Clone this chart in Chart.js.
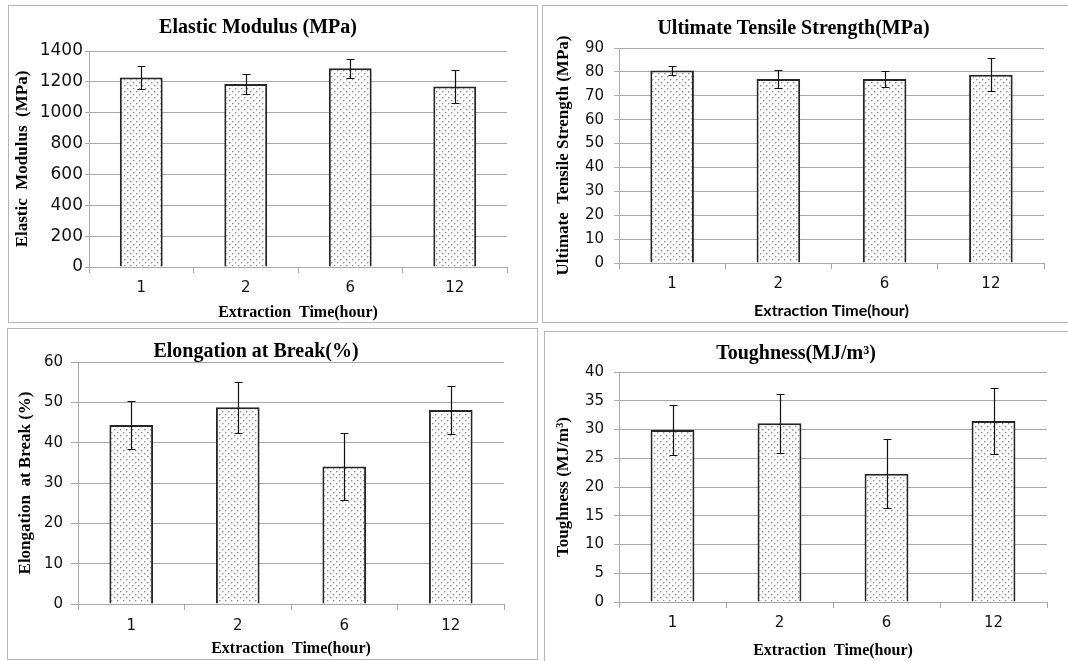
<!DOCTYPE html>
<html>
<head>
<meta charset="utf-8">
<script src="https://cdn.jsdelivr.net/npm/chart.js@4.4.1/dist/chart.umd.min.js"></script>
<style>
  body { margin: 0; background: #fff; width: 1068px; height: 661px; overflow: hidden; position: relative; }
  .panel { position: absolute; border: 1px solid #b4b4b4; box-sizing: border-box; overflow: hidden; }
  .panel canvas { position: absolute; left: 0; top: 0; }
</style>
</head>
<body>
<script>
// extraction time categories (hours)
const categories = ['1', '2', '6', '12'];

// values, with +/- error
const modulusValues = [1229, 1186, 1288, 1170];
const modulusErrors = [75, 65, 62, 110];

const strengthValues = [80.6, 77.0, 77.0, 78.8];
const strengthErrors = [2.0, 3.6, 3.2, 7.0];

const elongationValues = [44.4, 48.8, 34.1, 48.1];
const elongationErrors = [5.9, 6.3, 8.2, 6.0];

const toughnessValues = [29.9, 31.1, 22.3, 31.5];
const toughnessErrors = [4.4, 5.1, 6.0, 5.75];

const SERIF = '"Liberation Serif", "Times New Roman", serif';
const SANS = '"DejaVu Sans", sans-serif';
const GRID = '#a8a8a8';

// dotted fill like the original bars
function dotPattern() {
    const pc = document.createElement('canvas');
    pc.width = 6;
    pc.height = 6;
    const c = pc.getContext('2d');
    c.fillStyle = '#ffffff';
    c.fillRect(0, 0, 6, 6);
    c.fillStyle = '#8c8c8c';
    c.fillRect(1, 1, 1, 1);
    c.fillRect(4, 4, 1, 1);
    c.fillStyle = '#cfcfcf';
    c.fillRect(2, 1, 1, 1);
    c.fillRect(5, 4, 1, 1);
    c.fillRect(1, 2, 1, 1);
    c.fillRect(4, 5, 1, 1);
    return pc;
}

const errorBars = {
    id: 'errorBars',
    afterDatasetsDraw(chart) {
        const ctx = chart.ctx;
        const yScale = chart.scales.y;
        chart.data.datasets.forEach((ds, di) => {
            const meta = chart.getDatasetMeta(di);
            meta.data.forEach((bar, i) => {
                const v = ds.data[i];
                const e = ds.errors[i];
                const top = Math.round(yScale.getPixelForValue(v + e)) + 0.5;
                const bot = Math.round(yScale.getPixelForValue(v - e)) + 0.5;
                const x = Math.round(bar.x) + 0.5;
                ctx.save();
                ctx.strokeStyle = '#111';
                ctx.lineWidth = 1.2;
                ctx.beginPath();
                ctx.moveTo(x, top);
                ctx.lineTo(x, bot);
                ctx.moveTo(x - 4, top);
                ctx.lineTo(x + 4, top);
                ctx.moveTo(x - 4, bot);
                ctx.lineTo(x + 4, bot);
                ctx.stroke();
                ctx.restore();
            });
        });
    }
};

const panels = [
    {
        box: [8, 5, 530, 318], title: 'Elastic Modulus (MPa)', titlePad: [12, 13],
        yTitle: 'Elastic  Modulus  (MPa)', yTitlePad: 3, xTitle: 'Extraction  Time(hour)', xTitleFont: SERIF, xTitlePad: 0,
        values: modulusValues, errors: modulusErrors, max: 1400, step: 200,
        yWidth: 80, xHeight: 55, padRight: 30, padBottom: 0,
        yTickFont: 17, xTickFont: 15, yTickLen: 4, yTickPad: 2, xTickPad: 6
    },
    {
        box: [542, 5, 530, 318], title: 'Ultimate Tensile Strength(MPa)', titlePad: [13, 9],
        yTitle: 'Ultimate  Tensile Strength (MPa)', yTitlePad: 10, xTitle: 'Extraction Time(hour)', xTitleFont: '"Lato", "Liberation Sans", sans-serif', xTitlePad: 2,
        values: strengthValues, errors: strengthErrors, max: 90, step: 10,
        yWidth: 76, xHeight: 59, padRight: 27, padBottom: 0,
        yTickFont: 15, xTickFont: 15, yTickLen: 5, yTickPad: 10, xTickPad: 6
    },
    {
        box: [7, 328, 531, 332], title: 'Elongation at Break(%)', titlePad: [13, 0],
        yTitle: 'Elongation  at Break (%)', yTitlePad: 7, xTitle: 'Extraction  Time(hour)', xTitleFont: SERIF, xTitlePad: 1,
        values: elongationValues, errors: elongationErrors, max: 60, step: 10,
        yWidth: 70, xHeight: 55, padRight: 33, padBottom: 0,
        yTickFont: 15, xTickFont: 15, yTickLen: 7, yTickPad: 8, xTickPad: 7
    },
    {
        box: [544, 331, 530, 340], title: 'Toughness(MJ/m³)', titlePad: [12, 8],
        yTitle: 'Toughness (MJ/m³)', yTitlePad: 8, xTitle: 'Extraction  Time(hour)', xTitleFont: SERIF, xTitlePad: 2,
        values: toughnessValues, errors: toughnessErrors, max: 40, step: 5,
        yWidth: 74, xHeight: 60, padRight: 26, padBottom: 8,
        yTickFont: 15, xTickFont: 15, yTickLen: 5, yTickPad: 10, xTickPad: 6
    }
];

const pattern = dotPattern();

panels.forEach(p => {
    const div = document.createElement('div');
    div.className = 'panel';
    div.style.left = p.box[0] + 'px';
    div.style.top = p.box[1] + 'px';
    div.style.width = p.box[2] + 'px';
    div.style.height = p.box[3] + 'px';
    const canvas = document.createElement('canvas');
    const w = p.box[2] - 2;
    const h = p.box[3] - 2;
    canvas.width = w;
    canvas.height = h;
    canvas.style.width = w + 'px';
    canvas.style.height = h + 'px';
    div.appendChild(canvas);
    document.body.appendChild(div);

    const ctx = canvas.getContext('2d');
    const fill = ctx.createPattern(pattern, 'repeat');

    new Chart(canvas, {
        type: 'bar',
        data: {
            labels: categories,
            datasets: [{
                data: p.values,
                errors: p.errors,
                backgroundColor: fill,
                borderColor: '#262626',
                borderWidth: 2,
                categoryPercentage: 0.41,
                barPercentage: 1
            }]
        },
        options: {
            responsive: false,
            animation: false,
            devicePixelRatio: 1,
            layout: { padding: { left: 0, top: 0, right: p.padRight, bottom: p.padBottom } },
            plugins: {
                legend: { display: false },
                tooltip: { enabled: false },
                title: {
                    display: true,
                    text: p.title,
                    color: '#000',
                    font: { family: SERIF, size: 20, weight: 'bold', lineHeight: 1 },
                    padding: { top: p.titlePad[0], bottom: p.titlePad[1] }
                }
            },
            scales: {
                x: {
                    afterFit(scale) { scale.height = p.xHeight; },
                    grid: { drawOnChartArea: false, drawTicks: true, tickLength: 6, color: GRID },
                    border: { display: true, color: GRID, width: 1 },
                    ticks: {
                        color: '#111', padding: p.xTickPad, maxRotation: 0, autoSkip: false,
                        font: { family: SANS, size: p.xTickFont, lineHeight: 1.2 }
                    },
                    title: {
                        display: true, text: p.xTitle, color: '#000',
                        font: { family: p.xTitleFont, size: 16, weight: 'bold', lineHeight: 1.2 },
                        padding: { top: 0, bottom: p.xTitlePad }
                    }
                },
                y: {
                    min: 0,
                    max: p.max,
                    afterFit(scale) { scale.width = p.yWidth; },
                    grid: { color: GRID, tickLength: p.yTickLen, lineWidth: 1 },
                    border: { display: true, color: GRID, width: 1 },
                    ticks: {
                        stepSize: p.step, color: '#111', padding: p.yTickPad,
                        font: { family: SANS, size: p.yTickFont, lineHeight: 1.2 },
                        callback: v => String(v)
                    },
                    title: {
                        display: true, text: p.yTitle, color: '#000',
                        font: { family: SERIF, size: 17, weight: 'bold', lineHeight: 1.2 },
                        padding: { top: p.yTitlePad, bottom: 0 }
                    }
                }
            }
        },
        plugins: [errorBars]
    });
});
</script>
</body>
</html>
